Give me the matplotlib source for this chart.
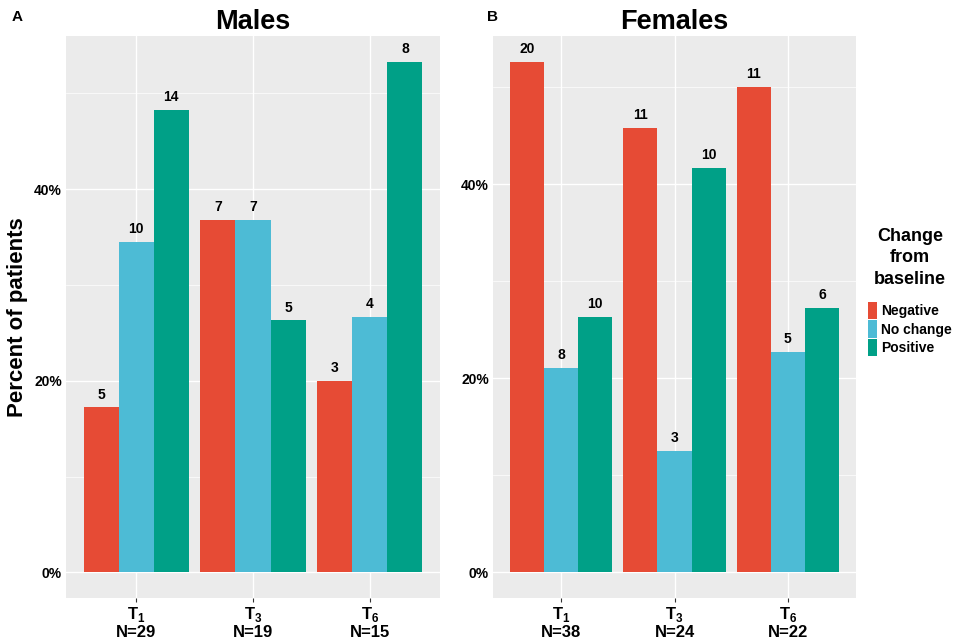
import numpy as np
import matplotlib.pyplot as plt
from matplotlib.patches import Patch
from matplotlib.ticker import MultipleLocator, FuncFormatter

plt.rcParams['font.family'] = ['Liberation Sans', 'DejaVu Sans']
plt.rcParams['font.weight'] = 'bold'
plt.rcParams['mathtext.fontset'] = 'custom'
plt.rcParams['mathtext.bf'] = 'Liberation Sans:bold'
plt.rcParams['mathtext.rm'] = 'Liberation Sans'

# Data: counts per change group, and group sizes
timepoints = [r'$\mathbf{T}_\mathbf{1}$', r'$\mathbf{T}_\mathbf{3}$', r'$\mathbf{T}_\mathbf{6}$']
groups = ['Negative', 'No change', 'Positive']
male_counts = {'Negative': [5, 7, 3], 'No change': [10, 7, 4], 'Positive': [14, 5, 8]}
male_n = [29, 19, 15]
female_counts = {'Negative': [20, 11, 11], 'No change': [8, 3, 5], 'Positive': [10, 10, 6]}
female_n = [38, 24, 22]

C_NEG = '#E64B35'
C_NOC = '#4DBBD5'
C_POS = '#00A087'
colors = [C_NEG, C_NOC, C_POS]
BG = '#EBEBEB'


def draw_panel(ax, counts, n, title):
    ax.set_facecolor(BG)
    x = np.arange(1, 4)
    w = 0.3
    ymax = 0
    for i, (g, c) in enumerate(zip(groups, colors)):
        pct = np.array(counts[g]) / np.array(n) * 100
        ymax = max(ymax, pct.max())
        ax.bar(x + (i - 1) * w, pct, w, color=c, zorder=2)
        for xi, p, k in zip(x + (i - 1) * w, pct, counts[g]):
            ax.text(xi, p + 0.6, str(k), ha='center', va='bottom',
                    fontsize=10, fontweight='bold', zorder=3)
    ax.set_xlim(0.4, 3.6)
    ax.set_ylim(-ymax * 0.05, ymax * 1.05)
    ax.yaxis.set_major_locator(MultipleLocator(20))
    ax.yaxis.set_minor_locator(MultipleLocator(10))
    ax.yaxis.set_major_formatter(FuncFormatter(lambda v, _: '%d%%' % v))
    ax.set_xticks(x)
    ax.set_xticklabels(['%s\nN=%d' % (t, k) for t, k in zip(timepoints, n)],
                       fontsize=12, fontweight='bold', linespacing=1.05)
    ax.grid(which='major', color='white', linewidth=1.0, zorder=0)
    ax.grid(which='minor', axis='y', color='white', linewidth=0.5, zorder=0)
    ax.set_axisbelow(True)
    for s in ax.spines.values():
        s.set_visible(False)
    ax.tick_params(axis='x', length=3, color='#333333', pad=2)
    ax.tick_params(axis='y', which='major', length=0, labelsize=10, pad=3)
    ax.tick_params(axis='y', which='minor', length=0)
    for lbl in ax.get_yticklabels():
        lbl.set_fontweight('bold')
    ax.set_title(title, fontsize=19.5, fontweight='bold', pad=5)


fig = plt.figure(figsize=(9.57, 6.44), dpi=100)
ax1 = fig.add_axes([66 / 957, 1 - 598 / 644, 374 / 957, 562 / 644])
ax2 = fig.add_axes([493 / 957, 1 - 598 / 644, 363 / 957, 562 / 644])

draw_panel(ax1, male_counts, male_n, 'Males')
draw_panel(ax2, female_counts, female_n, 'Females')

ax1.set_ylabel('Percent of patients', fontsize=16, fontweight='bold', labelpad=4)

fig.text(12 / 957, 1 - 17 / 644, 'A', fontsize=11, fontweight='bold', va='center')
fig.text(487 / 957, 1 - 17 / 644, 'B', fontsize=11, fontweight='bold', va='center')

handles = [Patch(facecolor=c, label=g) for g, c in zip(groups, colors)]
leg = fig.legend(handles=handles, title='Change\nfrom\nbaseline',
                 loc='center left', bbox_to_anchor=(862 / 957, 1 - 292 / 644),
                 frameon=False, fontsize=10, title_fontsize=13,
                 handlelength=0.7, handleheight=1.6, handletextpad=0.3,
                 labelspacing=0.05, borderaxespad=0)
leg.get_title().set_fontweight('bold')
leg.get_title().set_multialignment('center')
leg.get_title().set_linespacing(1.35)
leg._legend_box.sep = 10
for t in leg.get_texts():
    t.set_fontweight('bold')

fig.savefig('out.png', dpi=100)
